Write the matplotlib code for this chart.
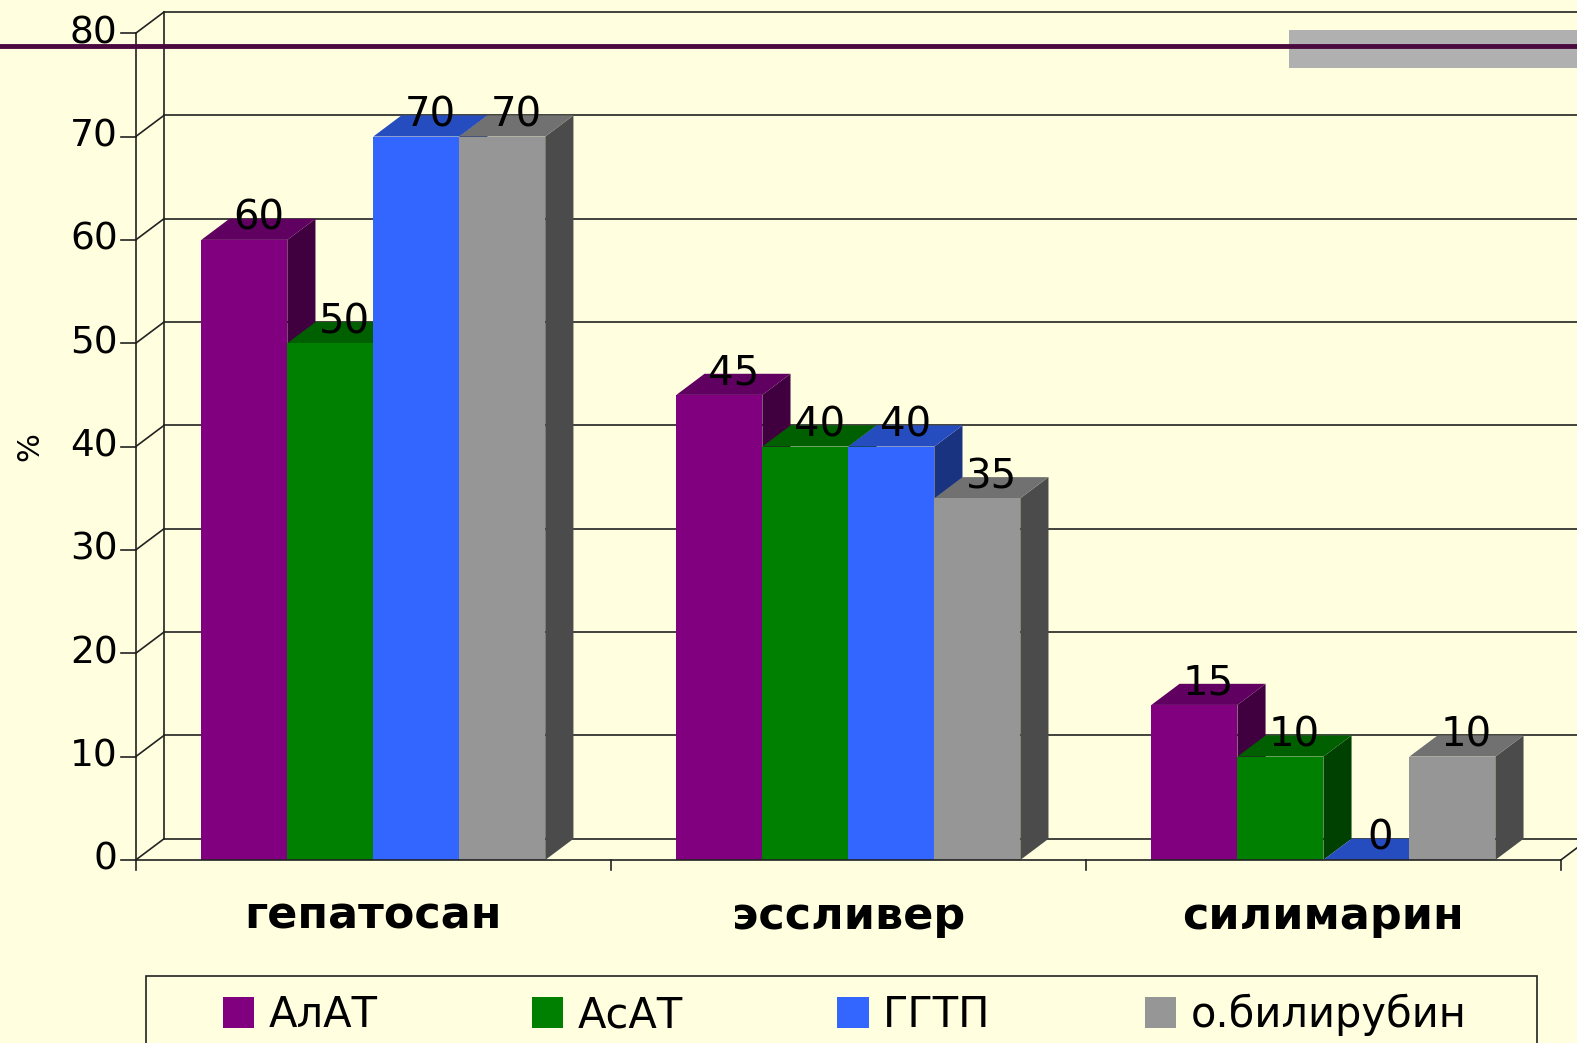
import matplotlib
matplotlib.use("Agg")
import matplotlib.pyplot as plt
from matplotlib.patches import Polygon, Patch, Rectangle
from matplotlib.lines import Line2D

categories = ["гепатосан", "эссливер", "силимарин"]
series = ["АлАТ", "АсАТ", "ГГТП", "о.билирубин"]
alat = [60, 45, 15]
asat = [50, 40, 10]
ggtp = [70, 40, 0]
bilirubin = [70, 35, 10]
yticks = [0, 10, 20, 30, 40, 50, 60, 70, 80]

colors = ["#800080", "#008000", "#3366FF", "#969696"]
bg = "#FFFFE0"

W, H = 1568.0, 1037.0
fig = plt.figure(figsize=(15.77, 10.43), dpi=100, facecolor=bg)
# front plane of the pseudo-3d plot
ax = fig.add_axes([135 / W, 1 - 855 / H, (1552 - 135) / W, (855 - 33) / H])
ax.set_xlim(0, 3)
ax.set_ylim(0, 80)
ax.set_facecolor("none")
for s in ax.spines.values():
    s.set_visible(False)
ax.set_xticks([])
ax.set_yticks([])

# depth offsets in data units
px_x = 3 / (1552 - 135)
px_y = 80 / (855 - 33)
dx = 28 * px_x
dy = 21 * px_y

line_kw = dict(color="#222222", lw=1.2, clip_on=False)

# walls and gridlines
for t in yticks:
    ax.plot([dx, 3 + 2 * dx], [t + dy, t + dy], zorder=1, **line_kw)
    ax.plot([0, dx], [t, t + dy], zorder=1, **line_kw)
    ax.plot([-15 * px_x, 0], [t, t], zorder=1, **line_kw)
    ax.text(-18 * px_x, t, str(t), ha="right", va="center", fontsize=27)
ax.plot([dx, dx], [dy, 80 + dy], zorder=1, **line_kw)
ax.plot([0, 0], [0, 80], zorder=1, **line_kw)
ax.plot([3, 3 + dx], [0, dy], zorder=1, **line_kw)

# category axis
ax.plot([0, 3], [0, 0], zorder=50, **line_kw)
for i in range(4):
    ax.plot([i, i], [0, -10 * px_y], zorder=50, **line_kw)
for i, c in enumerate(categories):
    ax.text(i + 0.5, -56 * px_y, c, ha="center", va="center",
            fontsize=32, fontweight="bold")

ax.text(-105 * px_x, 40, "%", rotation=90, ha="center", va="center", fontsize=22)


def shade(c, f):
    r, g, b = matplotlib.colors.to_rgb(c)
    return (r * f, g * f, b * f)


# bars: side face, top face, then front face
bw = 85.5 * px_x
values = [alat, asat, ggtp, bilirubin]
z = 10
for gi in range(len(categories)):
    start = gi + 0.5 - 2 * bw
    for si, vals in enumerate(values):
        v = vals[gi]
        x0 = start + si * bw
        x1 = x0 + bw
        col = colors[si]
        ax.add_patch(Polygon([(x1, 0), (x1 + dx, dy), (x1 + dx, v + dy), (x1, v)],
                             closed=True, fc=shade(col, 0.5), ec="none", zorder=z))
        ax.add_patch(Polygon([(x0, v), (x0 + dx, v + dy), (x1 + dx, v + dy), (x1, v)],
                             closed=True, fc=shade(col, 0.75), ec="none", zorder=z + 1))
        ax.bar(x0, v, width=bw, align="edge", color=col, zorder=z + 2)
        ax.text((x0 + x1) / 2 + dx / 2, v + dy, str(v), ha="center", va="center",
                fontsize=29, zorder=100)
        z += 3

# decorations across the top
fig.add_artist(Rectangle((1282 / W, 1 - 68 / H), (W - 1282) / W, 38 / H,
                         transform=fig.transFigure, fc="#B0B0B0", ec="none"))
fig.add_artist(Line2D([0, 1], [1 - 46 / H, 1 - 46 / H], transform=fig.transFigure,
                      color="#4A0A40", lw=3.5))

# legend box (runs off the bottom edge) and entries
fig.add_artist(Rectangle((145 / W, -0.05), (1528 - 145) / W, 0.05 + 1 - 970 / H,
                         transform=fig.transFigure, fc=bg, ec="#222222", lw=1.2))
handles = [Patch(fc=c, ec="none") for c in colors]
leg = fig.legend(handles, series, loc="center", ncol=4,
                 bbox_to_anchor=(840 / W, 1 - 1009 / H),
                 fontsize=30, frameon=False, handlelength=0.75,
                 handleheight=0.75, handletextpad=0.35, columnspacing=3.7,
                 borderpad=0, borderaxespad=0)

fig.savefig("out.png", dpi=100, facecolor=bg)
